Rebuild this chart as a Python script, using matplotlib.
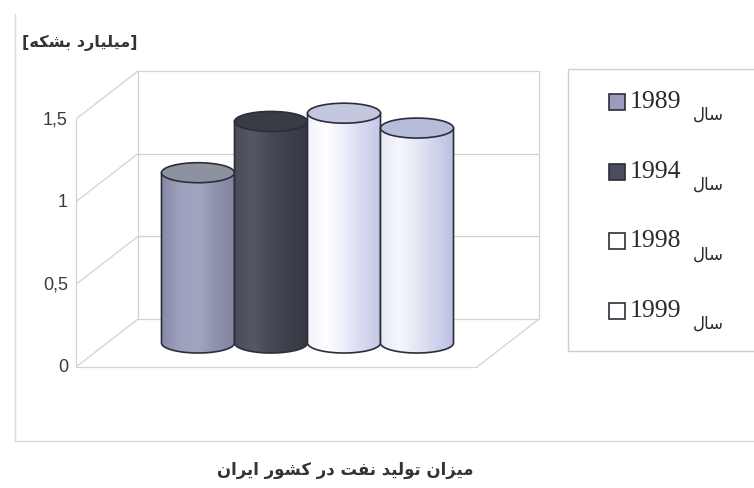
import numpy as np
import matplotlib
matplotlib.use('Agg')
import matplotlib.pyplot as plt
from matplotlib.patches import Ellipse, Rectangle, PathPatch
from matplotlib.path import Path
from matplotlib.colors import LinearSegmentedColormap
from matplotlib.lines import Line2D

# ---------------- data ----------------
years = ['1989', '1994', '1998', '1999']
values = [1.03, 1.34, 1.39, 1.30]
yticks = [0, 0.5, 1, 1.5]
ytick_labels = ['0', '0,5', '1', '1,5']
title_text = 'میزان تولید نفت در کشور ایران'
ylabel_text = 'میلیارد بشکه'
year_word = 'سال'

# ---------------- styles ----------------
body_colors = [
    ['#878aa6', '#9ea1bd', '#a3a6c1', '#8e91ac', '#8285a0'],
    ['#4a4c5a', '#555763', '#464854', '#3c3e4a', '#363844'],
    ['#f2f3fb', '#ffffff', '#eceefa', '#d6d9ef', '#c3c7e5'],
    ['#e6e8f6', '#f6f7fd', '#e4e7f5', '#cfd3ec', '#bcc0e0'],
]
top_colors = ['#8d939e', '#3a3c45', '#c4c7e0', '#b8bcdb']
legend_colors = ['#9a9cbd', '#4c4d5e', '#ffffff', '#ffffff']
outline = '#2c2d38'
grid_color = '#d2d2d2'

# ---------------- simple Persian shaping ----------------
FORMS = {
    'ا': ('\uFE8D', '\uFE8E'),
    'د': ('\uFEA9', '\uFEAA'),
    'ر': ('\uFEAD', '\uFEAE'),
    'ز': ('\uFEAF', '\uFEB0'),
    'و': ('\uFEED', '\uFEEE'),
    'ب': ('\uFE8F', '\uFE90', '\uFE91', '\uFE92'),
    'ت': ('\uFE95', '\uFE96', '\uFE97', '\uFE98'),
    'س': ('\uFEB1', '\uFEB2', '\uFEB3', '\uFEB4'),
    'ش': ('\uFEB5', '\uFEB6', '\uFEB7', '\uFEB8'),
    'ف': ('\uFED1', '\uFED2', '\uFED3', '\uFED4'),
    'ک': ('\uFB8E', '\uFB8F', '\uFB90', '\uFB91'),
    'ل': ('\uFEDD', '\uFEDE', '\uFEDF', '\uFEE0'),
    'م': ('\uFEE1', '\uFEE2', '\uFEE3', '\uFEE4'),
    'ن': ('\uFEE5', '\uFEE6', '\uFEE7', '\uFEE8'),
    'ه': ('\uFEE9', '\uFEEA', '\uFEEB', '\uFEEC'),
    'ی': ('\uFBFC', '\uFBFD', '\uFBFE', '\uFBFF'),
}


def shape_rtl(s):
    out = []
    for i, c in enumerate(s):
        if c not in FORMS:
            out.append(c)
            continue
        prev = s[i - 1] if i > 0 else ''
        nxt = s[i + 1] if i + 1 < len(s) else ''
        pj = prev in FORMS and len(FORMS[prev]) == 4
        nj = len(FORMS[c]) == 4 and nxt in FORMS
        f = FORMS[c]
        if pj and nj:
            g = f[3]
        elif pj:
            g = f[1]
        elif nj:
            g = f[2]
        else:
            g = f[0]
        out.append(g)
    return ''.join(reversed(out))


FA_FONT = ['DejaVu Sans']

# ---------------- figure ----------------
W, H = 754, 489
fig = plt.figure(figsize=(W / 100, H / 100), dpi=100)
fig.patch.set_facecolor('white')
ax = fig.add_axes([0, 0, 1, 1])

X0_PX, X1_PX = 76, 477
Y0_PX, YT_PX = 368, 120
sx = X1_PX - X0_PX
sy = (Y0_PX - YT_PX) / yticks[-1]
ax.set_xlim((0 - X0_PX) / sx - 0.5, (W - X0_PX) / sx - 0.5)
ax.set_ylim((Y0_PX - H) / sy, Y0_PX / sy)
ax.axis('off')

DX = 62 / sx
DY = 48 / sy
vmax = yticks[-1]

# walls and floor
lkw = dict(color=grid_color, lw=0.9, zorder=1, solid_capstyle='butt')
for t in yticks:
    ax.plot([-0.5, -0.5 + DX], [t, t + DY], **lkw)
    ax.plot([-0.5 + DX, 0.5 + DX], [t + DY, t + DY], **lkw)
ax.plot([-0.5, -0.5], [0, vmax], **lkw)
ax.plot([-0.5 + DX, -0.5 + DX], [DY, vmax + DY], **lkw)
ax.plot([0.5 + DX, 0.5 + DX], [DY, vmax + DY], **lkw)
ax.plot([-0.5, 0.5], [0, 0], **lkw)
ax.plot([0.5, 0.5 + DX], [0, DY], **lkw)

for t, lab in zip(yticks, ytick_labels):
    ax.text(-0.5 - 8 / sx, t, lab, ha='right', va='center', fontsize=13,
            family='Liberation Sans', color='#3a3a3a')

# cylinders
w = 73 / sx
eh = 20 / sy
base = DY / 2
xc_mid = DX / 2
n = len(values)
for i, v in enumerate(values):
    z = 10 + i
    xc = xc_mid + (i - (n - 1) / 2) * w
    xl, xr = xc - w / 2, xc + w / 2
    top = base + v
    th = np.linspace(0, -np.pi, 60)
    verts = [(xl, base), (xl, top), (xr, top)]
    verts += list(zip(xc + w / 2 * np.cos(th), base + eh / 2 * np.sin(th)))
    verts.append((xl, base))
    codes = [Path.MOVETO] + [Path.LINETO] * (len(verts) - 2) + [Path.CLOSEPOLY]
    path = Path(verts, codes)
    patch = PathPatch(path, fc='none', ec=outline, lw=1.2, zorder=z + 0.2)
    ax.add_patch(patch)
    cmap = LinearSegmentedColormap.from_list('c%d' % i, body_colors[i])
    grad = np.linspace(0, 1, 256).reshape(1, -1)
    im = ax.imshow(grad, cmap=cmap, extent=[xl, xr, base - eh, top],
                   aspect='auto', zorder=z, interpolation='bilinear')
    im.set_clip_path(patch)
    ax.add_patch(Ellipse((xc, top), w, eh, fc=top_colors[i], ec=outline,
                         lw=1.2, zorder=z + 0.3))

ax.set_xlim((0 - X0_PX) / sx - 0.5, (W - X0_PX) / sx - 0.5)
ax.set_ylim((Y0_PX - H) / sy, Y0_PX / sy)

# chart area border (left and bottom visible)
fig.add_artist(Line2D([15 / W, 15 / W], [1 - 15 / H, 1 - 442 / H],
                      color='#dadada', lw=1.0))
fig.add_artist(Line2D([15 / W, 1.0], [1 - 442 / H, 1 - 442 / H],
                      color='#dadada', lw=1.0))

# legend (manual)
fig.add_artist(Rectangle((568 / W, 1 - 352 / H), (W - 568 + 10) / W, (352 - 70) / H,
                         transform=fig.transFigure, fill=False,
                         ec='#cfcfcf', lw=1.0))
row0, row_step = 103, 69.7
for i, yr in enumerate(years):
    ypx = row0 + i * row_step
    sq = 16
    fig.add_artist(Rectangle((609 / W, 1 - (ypx + sq / 2) / H), sq / W, sq / H,
                             transform=fig.transFigure, fc=legend_colors[i],
                             ec=outline, lw=1.2))
    fig.text(630 / W, 1 - (ypx - 1) / H, yr, ha='left', va='center', fontsize=18.5,
             family='Liberation Serif', color='#2a2a2a')
    fig.text(724 / W, 1 - (ypx + 12) / H, shape_rtl(year_word), ha='right',
             va='center', fontsize=12, family=FA_FONT, color='#2a2a2a')

# axis unit label and title
fig.text(80 / W, 1 - 43 / H, '[' + shape_rtl(ylabel_text) + ']', ha='center',
         va='center', fontsize=11.6, fontweight='bold', family=FA_FONT,
         color='#333333')
fig.text(345 / W, 1 - 470 / H, shape_rtl(title_text), ha='center', va='center',
         fontsize=11.9, fontweight='bold', family=FA_FONT, color='#333333')

fig.savefig('out.png', dpi=100, facecolor='white')
